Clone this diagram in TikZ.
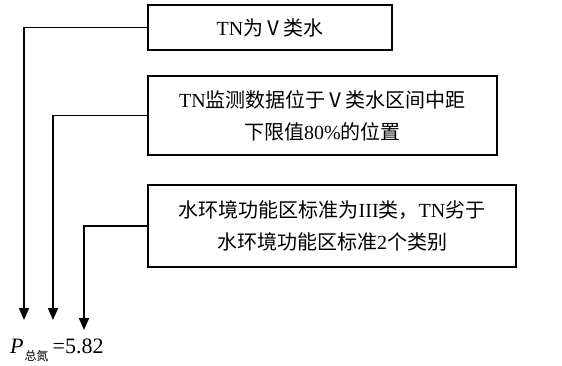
\documentclass[tikz,border=0pt]{standalone}
\usepackage{fontspec}
\setmainfont{Liberation Serif}
\newfontfamily\cjk{Noto Sans CJK SC}
\usetikzlibrary{arrows.meta}
\begin{document}
\begin{tikzpicture}[x=1pt,y=-1pt,
  box/.style={draw,line width=1.6pt,inner sep=0pt,align=center,font=\fontsize{20}{32}\selectfont},
  conn/.style={line width=1.6pt,-{Triangle[width=10pt,length=12pt]}}]
\useasboundingbox (0,0) rectangle (562,366);
\node[box,minimum width=244pt,minimum height=45pt] (b1) at (270,27.5) {TN{\cjk 为Ⅴ类水}};
\node[box,minimum width=349pt,minimum height=79pt] (b2) at (322.5,115.5) {TN{\cjk 监测数据位于Ⅴ类水区间中距}\\{\cjk 下限值}80\%{\cjk 的位置}};
\node[box,minimum width=368pt,minimum height=82pt] (b3) at (332,226) {{\cjk 水环境功能区标准为}III{\cjk 类，}TN{\cjk 劣于}\\{\cjk 水环境功能区标准}2{\cjk 个类别}};
\coordinate (e1) at (24,320);
\coordinate (e2) at (53,320);
\coordinate (e3) at (84,330);
\draw[conn] (b1.west) -| (e1);
\draw[conn] (b2.west) -| (e2);
\draw[conn] (b3.west) -| (e3);
\node[anchor=west,inner sep=0pt,font=\fontsize{22}{22}\selectfont] (p) at (10,350) {\textit{P}\hspace{1pt}\raisebox{-7pt}{\cjk\fontsize{12}{12}\selectfont 总氮}\hspace{4pt}=5.82};
\end{tikzpicture}
\end{document}
